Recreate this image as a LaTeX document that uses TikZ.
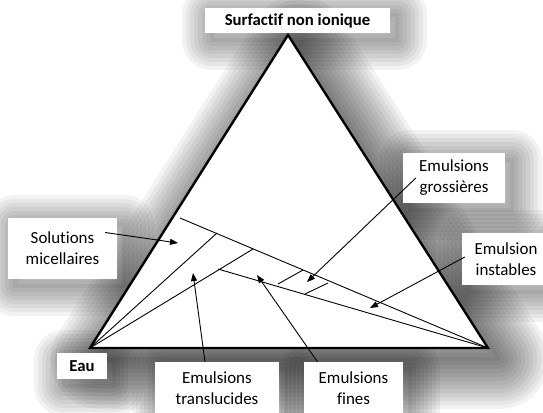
\documentclass[tikz,border=0pt]{standalone}
\usepackage{fontspec}
\setmainfont{Carlito}[Ligatures=NoCommon]
\usetikzlibrary{arrows.meta,backgrounds}
\definecolor{trink}{RGB}{0,0,0}
\tikzset{
  lbl/.style={
    fill=white, align=center, inner sep=0pt,
    font=\fontsize{17}{21}\selectfont
  },
  ttl/.style={lbl, font=\fontsize{16.8}{21}\selectfont\bfseries},
  haze/.style={draw=black, draw opacity=0.05, line join=round},
  side/.style={draw=trink, line width=2.4pt, line join=miter},
  zone/.style={draw=trink, line width=0.9pt},
  arr/.style={-{Triangle[length=8bp,width=6bp]}, draw=trink, line width=0.9pt}
}

\begin{document}
\begin{tikzpicture}[x=1bp, y=-1bp]
  \useasboundingbox (0,0) rectangle (543,412);
  % sommets
  \coordinate (eau) at (90,348);
  \coordinate (huile) at (488,348);
  \coordinate (surf) at (288,35);

  % etiquettes
  \node[ttl, minimum width=185bp, minimum height=25bp] (surfl) at (297.5,20.5) {Surfactif non ionique};
  \node[ttl, minimum width=50bp, minimum height=26bp] (eaul) at (82,366) {Eau};
  \node[lbl, minimum width=109bp, minimum height=61bp] (solmic) at (62.5,248.5) {Solutions\\micellaires};
  \node[lbl, minimum width=102bp, minimum height=50bp] (gross) at (454,178) {Emulsions\\grossi\`eres};
  \node[lbl, minimum width=88bp, minimum height=52bp] (instab) at (506,259) {Emulsion\\instables};
  \node[lbl, minimum width=124bp, minimum height=52bp] (transl) at (217,388) {Emulsions\\translucides};
  \node[lbl, minimum width=99bp, minimum height=52bp] (fines) at (353.5,388) {Emulsions\\fines};

  % ombre floue
  \begin{pgfonlayer}{background}
    \foreach \n in {surfl,eaul,solmic,gross,instab,transl,fines}
      \foreach \w in {4,12,...,60}
        \draw[haze, line width=\w bp] ([shift={(7,7)}]\n.south west) rectangle ([shift={(7,7)}]\n.north east);
    \foreach \w in {4,12,...,100}
      \draw[haze, line width=\w bp] ([shift={(11,11)}]eau) -- ([shift={(11,11)}]surf) -- ([shift={(11,11)}]huile) -- cycle;
    \fill[white] (eau) -- (surf) -- (huile) -- cycle;
  \end{pgfonlayer}

  % limites des domaines
  \coordinate (a1) at (180,218);
  \coordinate (a2) at (218,269);
  \coordinate (d1) at (217,233);
  \coordinate (d2) at (253,249);
  \coordinate (g1) at (278,284);
  \coordinate (g2) at (303,270);
  \coordinate (g3) at (305,294);
  \coordinate (g4) at (328,283);
  \draw[zone] (a1) -- (huile);
  \draw[zone] (a2) -- (huile);
  \draw[zone] (eau) -- (d1);
  \draw[zone] (eau) -- (d2);
  \draw[zone] (g1) -- (g2);
  \draw[zone] (g3) -- (g4);
  \draw[side] (eau) -- (surf) -- (huile) -- cycle;

  % fleches
  \coordinate (psol) at (178,243);
  \coordinate (ptra) at (193,273);
  \coordinate (pfin) at (257,275);
  \coordinate (pgro) at (307,282);
  \coordinate (pins) at (370,308);
  \draw[arr] ([xshift=-12bp,yshift=16bp]solmic.east) -- (psol);
  \draw[arr] ([xshift=-12bp]transl.north) -- (ptra);
  \draw[arr] ([xshift=-36bp]fines.north) -- (pfin);
  \draw[arr] ([xshift=13bp]gross.west) -- (pgro);
  \draw[arr] ([xshift=3bp,yshift=2bp]instab.west) -- (pins);
\end{tikzpicture}
\end{document}
